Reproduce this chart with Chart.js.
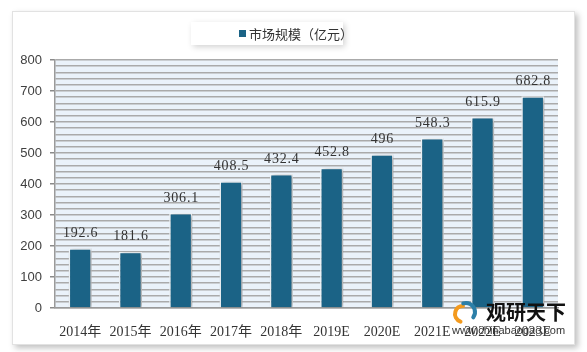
<!doctype html>
<html lang="zh">
<head>
<meta charset="utf-8">
<title>市场规模</title>
<script src="https://cdn.jsdelivr.net/npm/chart.js"></script>
<style>
  html, body { margin: 0; padding: 0; background: #fff; }
  .wrap { position: relative; width: 587px; height: 352px; }
  .card {
    position: absolute; left: 12px; top: 11px; width: 561px; height: 332px;
    background: #fff; border: 1px solid #e2e2e2;
    box-shadow: 3px 3px 6px rgba(0,0,0,0.25);
  }
  canvas { position: absolute; left: 0; top: 0; }
</style>
</head>
<body>
<div class="wrap">
  <div class="card"></div>
  <canvas id="c" width="587" height="352"></canvas>
</div>
<script>
  const years = ['2014年', '2015年', '2016年', '2017年', '2018年', '2019E', '2020E', '2021E', '2022E', '2023E'];
  const marketSize = [192.6, 181.6, 306.1, 408.5, 432.4, 452.8, 496, 548.3, 615.9, 682.8];
  const seriesName = '市场规模（亿元）';
  const barColor = '#1b6386';

  // plot background + legend box
  const backdrop = {
    id: 'backdrop',
    beforeDraw(chart) {
      const { ctx, chartArea: a } = chart;
      ctx.save();
      ctx.fillStyle = '#eaf2fa';
      ctx.fillRect(a.left, a.top, a.right - a.left, a.bottom - a.top);
      // legend
      ctx.shadowColor = 'rgba(0,0,0,0.18)';
      ctx.shadowBlur = 6;
      ctx.shadowOffsetX = 2;
      ctx.shadowOffsetY = 2;
      ctx.fillStyle = '#fff';
      ctx.fillRect(191, 22, 152, 23);
      ctx.shadowColor = 'transparent';
      ctx.fillStyle = barColor;
      ctx.fillRect(239, 30, 7, 7);
      ctx.fillStyle = '#333';
      ctx.font = '13px "Noto Sans CJK SC"';
      ctx.textBaseline = 'middle';
      ctx.fillText(seriesName, 249, 34);
      ctx.restore();
    }
  };

  const barShadow = {
    id: 'barShadow',
    beforeDatasetsDraw(chart) {
      const ctx = chart.ctx;
      ctx.save();
      ctx.shadowColor = 'rgba(0,0,0,0.35)';
      ctx.shadowBlur = 4;
      ctx.shadowOffsetX = 2;
      ctx.shadowOffsetY = 1;
    },
    afterDatasetsDraw(chart) {
      chart.ctx.restore();
    }
  };

  const valueLabels = {
    id: 'valueLabels',
    afterDatasetsDraw(chart) {
      const ctx = chart.ctx;
      const meta = chart.getDatasetMeta(0);
      ctx.save();
      ctx.font = '14px "Liberation Serif", "DejaVu Serif", serif';
      ctx.letterSpacing = '0.8px';
      ctx.fillStyle = '#333';
      ctx.textAlign = 'center';
      ctx.textBaseline = 'bottom';
      meta.data.forEach((bar, i) => {
        ctx.fillText(String(marketSize[i]), bar.x + 0.5, bar.y - 8);
      });
      ctx.restore();
    }
  };

  const watermark = {
    id: 'watermark',
    afterDraw(chart) {
      const ctx = chart.ctx;
      ctx.save();
      ctx.lineCap = 'round';
      ctx.lineWidth = 4;
      ctx.strokeStyle = '#f39a1e';
      ctx.beginPath();
      ctx.arc(463, 314, 8, Math.PI * 0.6, Math.PI * 1.5);
      ctx.stroke();
      ctx.strokeStyle = '#2c7fa8';
      ctx.beginPath();
      ctx.arc(466, 312, 9, Math.PI * 1.4, Math.PI * 0.2);
      ctx.stroke();
      ctx.fillStyle = '#111';
      ctx.font = 'bold 20px "Noto Sans CJK SC"';
      ctx.textBaseline = 'middle';
      ctx.fillText('观研天下', 486, 312);
      ctx.font = '11px "Liberation Sans", Arial, sans-serif';
      ctx.fillStyle = '#333';
      ctx.fillText('www.chinabaogao.com', 452, 331);
      ctx.restore();
    }
  };

  new Chart(document.getElementById('c'), {
    type: 'bar',
    data: {
      labels: years,
      datasets: [{
        label: seriesName,
        data: marketSize,
        backgroundColor: barColor,
        borderColor: '#f4f8fb',
        borderWidth: 1.5,
        barPercentage: 0.46,
        categoryPercentage: 1
      }]
    },
    options: {
      responsive: false,
      animation: false,
      devicePixelRatio: 1,
      layout: { padding: { top: 60, right: 29, left: 0, bottom: 0 } },
      plugins: { legend: { display: false }, tooltip: { enabled: false } },
      scales: {
        x: {
          grid: { display: false },
          border: { color: '#9a9a9a', width: 1.5 },
          ticks: {
            color: '#333',
            font: { family: '"Liberation Serif", "Noto Sans CJK SC", serif', size: 14 },
            padding: 8,
            maxRotation: 0,
            autoSkip: false
          },
          afterFit(scale) { scale.height = 44; }
        },
        y: {
          min: 0,
          max: 800,
          border: { color: '#9a9a9a', width: 1.5 },
          grid: {
            color: '#aaaaaa',
            lineWidth: 1.5,
            tickLength: 5,
            tickColor: (c) => (c.tick && c.tick.value % 100 === 0) ? '#8a8a8a' : 'rgba(0,0,0,0)'
          },
          ticks: {
            stepSize: 20,
            maxTicksLimit: 100,
            autoSkip: false,
            color: '#404040',
            padding: 8,
            font: { family: '"Liberation Sans", Arial, sans-serif', size: 13 },
            callback: (v) => (v % 100 === 0 ? v : '')
          },
          afterFit(scale) { scale.width = 55; }
        }
      }
    },
    plugins: [backdrop, barShadow, valueLabels, watermark]
  });
</script>
</body>
</html>
